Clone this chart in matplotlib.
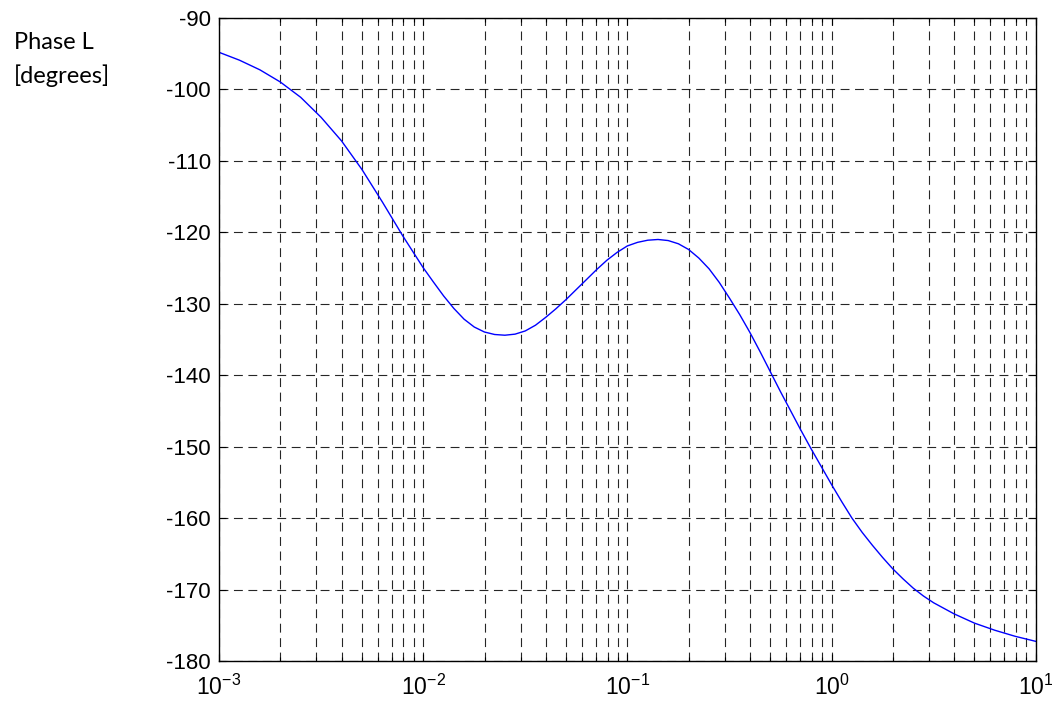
import matplotlib
matplotlib.use("Agg")
import matplotlib.pyplot as plt
from matplotlib.ticker import LogLocator

plt.rcParams['font.family'] = ['Liberation Sans', 'DejaVu Sans']
plt.rcParams['mathtext.fontset'] = 'custom'
plt.rcParams['mathtext.rm'] = 'Liberation Sans'
plt.rcParams['mathtext.it'] = 'Liberation Sans'
plt.rcParams['axes.unicode_minus'] = False

# values (frequency, phase in degrees)
freq = [0.001, 0.001259, 0.001585, 0.001995, 0.002512, 0.003162, 0.003981,
        0.005012, 0.00631, 0.007943, 0.01, 0.01122, 0.01259, 0.01413, 0.01585,
        0.01778, 0.01995, 0.02239, 0.02512, 0.02818, 0.03162, 0.03548, 0.03981,
        0.04467, 0.05012, 0.05623, 0.0631, 0.07079, 0.07943, 0.08913, 0.1,
        0.1122, 0.1259, 0.1413, 0.1585, 0.1778, 0.1995, 0.2239, 0.2512, 0.2818,
        0.3162, 0.3548, 0.3981, 0.4467, 0.5012, 0.5623, 0.631, 0.7079, 0.7943,
        0.8913, 1.0, 1.122, 1.259, 1.413, 1.585, 1.778, 1.995, 2.239, 2.512,
        2.818, 3.162, 3.981, 5.012, 6.31, 7.943, 10.0]
phase = [-94.8, -95.9, -97.25, -98.95, -101.1, -103.9, -107.2,
         -111.2, -115.75, -120.5, -124.95, -126.95, -128.9, -130.65, -132.15,
         -133.25, -133.95, -134.3, -134.4, -134.25, -133.8, -133.0, -131.9,
         -130.7, -129.4, -128.0, -126.6, -125.2, -123.9, -122.8, -121.9,
         -121.4, -121.1, -121.0, -121.15, -121.6, -122.4, -123.6, -125.1, -127.0,
         -129.2, -131.5, -134.0, -136.7, -139.5, -142.3, -145.0, -147.7, -150.3,
         -152.8, -155.3, -157.7, -160.0, -162.0, -163.8, -165.5, -167.1, -168.5, -169.8,
         -170.9, -171.85, -173.4, -174.7, -175.7, -176.55, -177.25]

fig = plt.figure(figsize=(10.52, 7.04), dpi=100)
ax = fig.add_axes([0.2082, 0.0611, 0.7763, 0.9133])

ax.semilogx(freq, phase, color='#0000ff', linewidth=1.0)

ax.set_xlim(1e-3, 1e1)
ax.set_ylim(-180, -90)
ax.set_yticks(range(-180, -89, 10))
ax.xaxis.set_major_locator(LogLocator(base=10, numticks=10))
ax.xaxis.set_minor_locator(LogLocator(base=10, subs=range(2, 10), numticks=20))

grid_style = dict(color='black', linestyle=(0, (8, 5)), linewidth=0.8, alpha=0.85)
ax.grid(True, which='major', axis='both', **grid_style)
ax.grid(True, which='minor', axis='x', **grid_style)

ax.tick_params(which='both', direction='in', top=True, right=True)
ax.tick_params(which='major', length=5, width=0.8)
ax.tick_params(which='minor', length=3, width=0.8)
ax.tick_params(axis='y', which='major', labelsize=16, pad=6)
ax.tick_params(axis='x', which='major', labelsize=16.5, pad=10)
for s in ax.spines.values():
    s.set_linewidth(1.0)

fig.text(0.0133, 0.930, 'Phase L', fontsize=17, family=['Lato', 'DejaVu Sans'], ha='left', va='baseline')
fig.text(0.0133, 0.882, '[degrees]', fontsize=17, family=['Lato', 'DejaVu Sans'], ha='left', va='baseline')

fig.savefig('out.png', dpi=100)
